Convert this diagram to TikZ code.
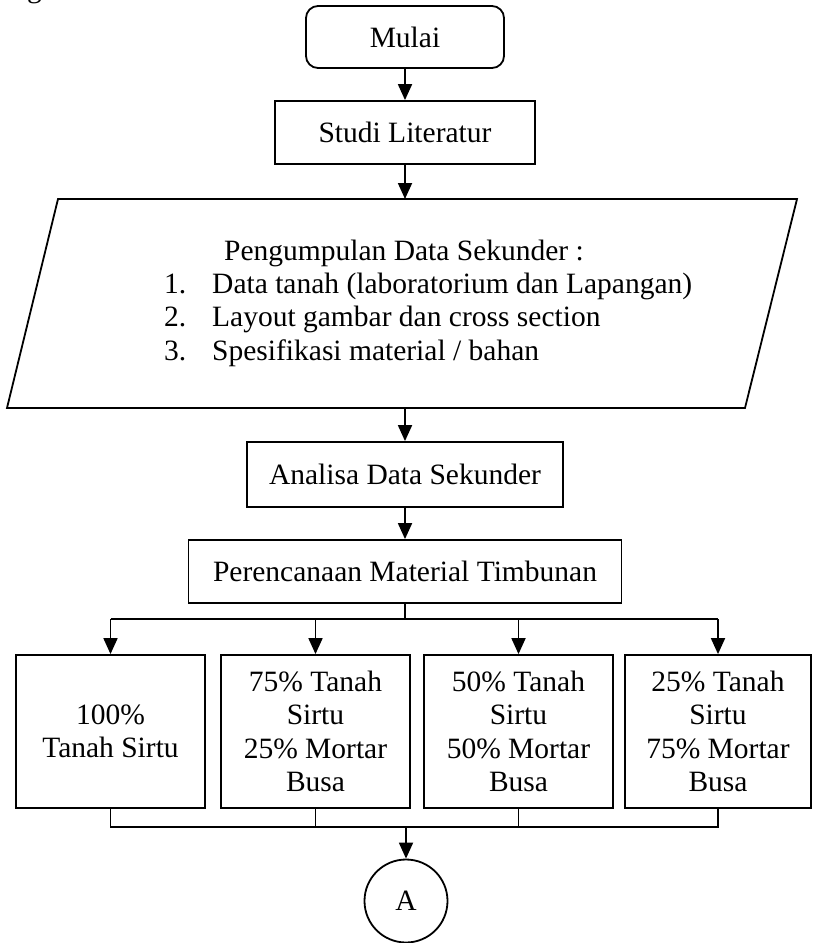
\documentclass[tikz,border=0pt]{standalone}
\usepackage{fontspec}
\setmainfont{Liberation Serif}
\usetikzlibrary{arrows.meta}
\begin{document}
\begin{tikzpicture}[x=1pt,y=-1pt,
  every node/.style={font=\fontsize{29.5}{33.5}\selectfont},
  ln/.style={line width=1.8pt},
  arr/.style={ln,-{Triangle[length=16pt,width=14pt]}},
  procbox/.style={draw,ln,rectangle,inner sep=0pt,align=center},
  startbox/.style={procbox,rounded corners=12pt},
  optbox/.style={procbox,minimum width=189pt,minimum height=153pt},
  txt/.style={inner sep=0pt}
]
\useasboundingbox (0,0) rectangle (813,943);

% clipped fragment from the line above the figure
\node[txt,anchor=base] (gfrag) at (34.5,-2.5) {g};

\node[startbox,minimum width=198pt,minimum height=62pt] (mulai) at (405,37) {Mulai};
\node[procbox,minimum width=260pt,minimum height=63pt] (studi) at (405,132.5) {Studi Literatur};

% parallelogram
\coordinate (ptl) at (58,199);
\coordinate (ptr) at (797,199);
\coordinate (pbr) at (745,408);
\coordinate (pbl) at (7,408);
\draw[ln,line join=miter] (ptl) -- (ptr) -- (pbr) -- (pbl) -- cycle;
\node[txt,anchor=base] (phead) at (404,260) {Pengumpulan Data Sekunder :};
\node[txt,anchor=base west] (pn1) at (164,293) {1.};
\node[txt,anchor=base west] (pi1) at (212,293) {Data tanah (laboratorium dan Lapangan)};
\node[txt,anchor=base west] (pn2) at (164,326.5) {2.};
\node[txt,anchor=base west] (pi2) at (212,326.5) {Layout gambar dan cross section};
\node[txt,anchor=base west] (pn3) at (164,360) {3.};
\node[txt,anchor=base west] (pi3) at (212,360) {Spesifikasi material / bahan};

\node[procbox,minimum width=316pt,minimum height=65pt] (analisa) at (405,474.5) {Analisa Data Sekunder};
\node[procbox,minimum width=433pt,minimum height=63pt] (plan) at (405,571.5) {Perencanaan Material Timbunan};

\node[optbox] (b1) at (110.5,731.5) {100\%\\Tanah Sirtu};
\node[optbox] (b2) at (315.5,731.5) {75\% Tanah\\Sirtu\\25\% Mortar\\Busa};
\node[optbox] (b3) at (518.5,731.5) {50\% Tanah\\Sirtu\\50\% Mortar\\Busa};
\node[optbox,minimum width=186pt] (b4) at (718,731.5) {25\% Tanah\\Sirtu\\75\% Mortar\\Busa};

\node[draw,ln,circle,minimum size=83pt,inner sep=0pt] (conA) at (406,901) {A};

\coordinate (fork) at (0,619);
\coordinate (merge) at (0,827);

% connectors
\draw[arr] (mulai.south) -- (studi.north);
\draw[arr] (studi.south) -- (studi.south |- ptl);
\draw[arr] (analisa.north |- pbl) -- (analisa.north);
\draw[arr] (analisa.south) -- (plan.north);
\draw[ln] (plan.south) -- (plan.south |- fork);
\draw[ln] (b1.north |- fork) -- (b4.north |- fork);
\foreach \b in {b1,b2,b3,b4} {
  \draw[arr] (\b.north |- fork) -- (\b.north);
}
\draw[ln] (b1.south) -- (b1.south |- merge) -- (b4.south |- merge) -- (b4.south);
\draw[ln] (b2.south) -- (b2.south |- merge);
\draw[ln] (b3.south) -- (b3.south |- merge);
\draw[arr] (conA.north |- merge) -- (conA.north);
\end{tikzpicture}
\end{document}
